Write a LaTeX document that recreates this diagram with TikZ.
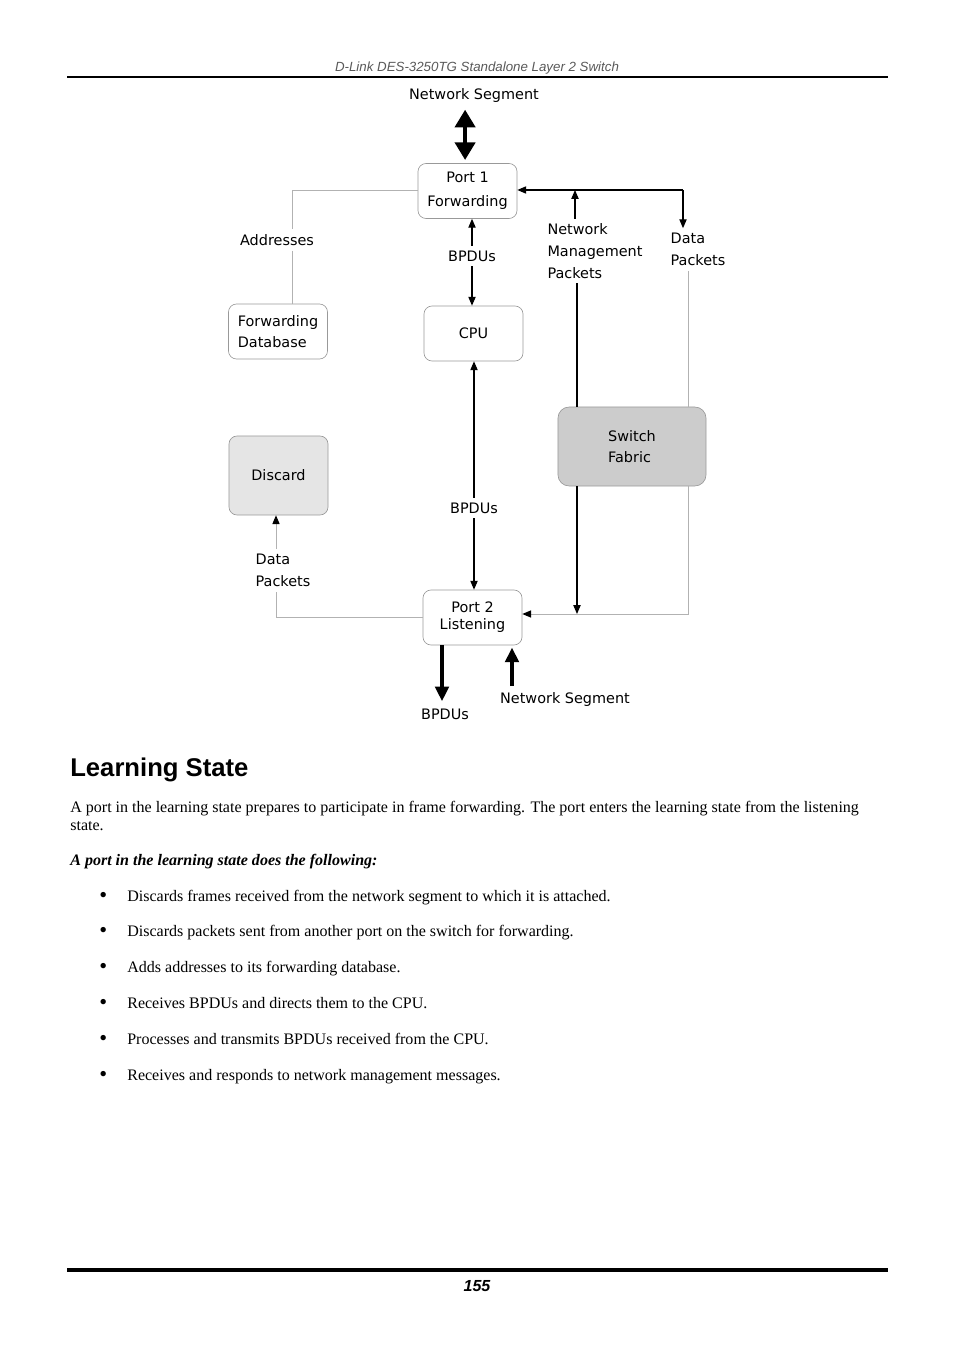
\documentclass[tikz,border=0pt]{standalone}
\usepackage{fontspec}
\setmainfont{Liberation Serif}
\newfontfamily\diafont{DejaVu Sans}
\newfontfamily\arialfont{Liberation Sans}
\usetikzlibrary{arrows.meta}
\usetikzlibrary{positioning}
\newcommand\dia{\diafont\fontsize{9}{13.5}\selectfont}

\begin{document}
\begin{tikzpicture}[x=0.624pt,y=-0.624pt,
  box/.style={draw=black!40,rounded corners=5pt,fill=white,inner sep=0pt,align=center,minimum width=61.8pt,minimum height=34.3pt,font=\dia},
  lbl/.style={font=\dia,inner sep=3pt},
  thin/.style={line width=0.7pt,-{Triangle[length=5.5pt,width=4.5pt]}},
  faint/.style={draw=black!30,line width=0.6pt},
  fat/.style={line width=1.9pt,-{Triangle[length=9pt,width=8.5pt]},shorten >=1.5pt},
  body/.style={anchor=base west,inner sep=0pt,font=\fontsize{10}{12}\selectfont}]
  \useasboundingbox (0,0) rectangle (954,1351);
  % page head and foot
  \node[anchor=base,inner sep=0pt,text=black!65,font=\arialfont\itshape\fontsize{8.3}{10}\selectfont] (head) at (477,72) {D-Link DES-3250TG Standalone Layer 2 Switch};
  \draw[line width=1.25pt] (67,77) -- (888,77);
  \draw[line width=1.9pt] (67,1270) -- (888,1270);
  \node[anchor=base,inner sep=0pt,font=\arialfont\bfseries\itshape\fontsize{10}{12}\selectfont] (pageno) at (477,1291) {155};
  % boxes
  \node[box] (port1) at (467.5,191) {Port 1\\[1.5pt]Forwarding};
  \node[box] (cpu) at (473.5,333.5) {CPU};
  \node[box,align=left] (fdb) at (278,331.5) {Forwarding\\Database};
  \node[box,fill=black!10,minimum height=49.3pt] (discard) at (278.5,475.5) {Discard};
  \node[box,fill=black!20,minimum width=92.4pt,minimum height=49.3pt,rounded corners=7pt,align=left] (fabric) at (632,446.5) {Switch\\Fabric};
  \node[box] (port2) at (472.5,617.5) {Port 2\\[-3pt]Listening};
  % labels
  \node[lbl] (segtop) at (474,96) {Network Segment};
  \node[lbl] (addr) at (277,240) {Addresses};
  \node[lbl] (bpdu1) at (472,256) {BPDUs};
  \node[lbl,align=left] (mgmt) at (595,251) {Network\\Management\\Packets};
  \node[lbl,align=left] (data1) at (698,249.5) {Data\\Packets};
  \node[lbl] (bpdu2) at (474,508) {BPDUs};
  \node[lbl,align=left] (data2) at (283,570.5) {Data\\Packets};
  \node[lbl] (bpdu3) at (445,714) {BPDUs};
  \node[lbl] (segbot) at (565,700) {Network Segment};
  \coordinate (tee) at (683,190);
  \coordinate (up) at (575,190);
  \coordinate (mx) at (577,614);
  \coordinate (dx) at (688,614);
  \coordinate (ax) at (292,190);
  \coordinate (lx) at (276,617);
  \coordinate (nx) at (512,686);
  \coordinate (bx) at (442,714);
  % connectors
  \draw[line width=2.5pt,{Triangle[length=11pt,width=12.5pt]}-{Triangle[length=11pt,width=12.5pt]},shorten <=1pt,shorten >=2pt] ([xshift=-1.5pt]segtop.south -| port1.north) -- ([xshift=-1.5pt]port1.north);
  \draw[thin] (bpdu1.north) -- (bpdu1.north |- port1.south);
  \draw[thin] (bpdu1.south) -- (bpdu1.south |- cpu.north);
  \draw[thin] (tee) -- (tee -| port1.east);
  \draw[thin] (tee) -- (tee |- data1.north);
  \draw[thin] (mgmt.north -| up) -- (up);
  \draw[line width=0.7pt] (mgmt.south -| mx) -- (fabric.north -| mx);
  \draw[faint] (data1.south -| dx) -- (fabric.north -| dx);
  \draw[thin] (fabric.south -| mx) -- (mx);
  \draw[faint,-{Triangle[length=5.5pt,width=4.5pt,color=black]}] (fabric.south -| dx) -- (dx) -- (dx -| port2.east);
  \draw[thin] (bpdu2.north) -- (bpdu2.north |- cpu.south);
  \draw[thin] (bpdu2.south) -- (bpdu2.south |- port2.north);
  \draw[faint] (port1.west |- ax) -- (ax) -- (ax |- addr.north);
  \draw[faint] (ax |- addr.south) -- (ax |- fdb.north);
  \draw[faint] (port2.west |- lx) -- (lx) -- (lx |- data2.south);
  \draw[faint,-{Triangle[length=5.5pt,width=4.5pt,color=black]}] (data2.north -| lx) -- (lx |- discard.south);
  \draw[fat] (port2.south -| bx) -- (bx |- bpdu3.north);
  \draw[fat] (nx) -- (nx |- port2.south);
  % text
  \node[anchor=base west,inner sep=0pt,font=\arialfont\bfseries\fontsize{16}{19}\selectfont] (title) at (70,776) {Learning State};
  \node[body] (par1) at (70,812) {A port in the learning state prepares to participate in frame forwarding. The port enters the learning state from the listening};
  \node[body] (par2) at (70,830) {state.};
  \node[body,font=\bfseries\itshape\fontsize{10}{12}\selectfont] (lead) at (70,865) {A port in the learning state does the following:};
  \foreach \txt [count=\i from 0] in {Discards frames received from the network segment to which it is attached.,
    Discards packets sent from another port on the switch for forwarding.,
    Adds addresses to its forwarding database.,
    Receives BPDUs and directs them to the CPU.,
    Processes and transmits BPDUs received from the CPU.,
    Receives and responds to network management messages.}{
    \node[body,font=\fontsize{14}{14}\selectfont] (dot\i) at (99,{902+35.8*\i}) {\textbullet};
    \node[body] (item\i) at (127,{901+35.8*\i}) {\txt};
  }
\end{tikzpicture}
\end{document}
